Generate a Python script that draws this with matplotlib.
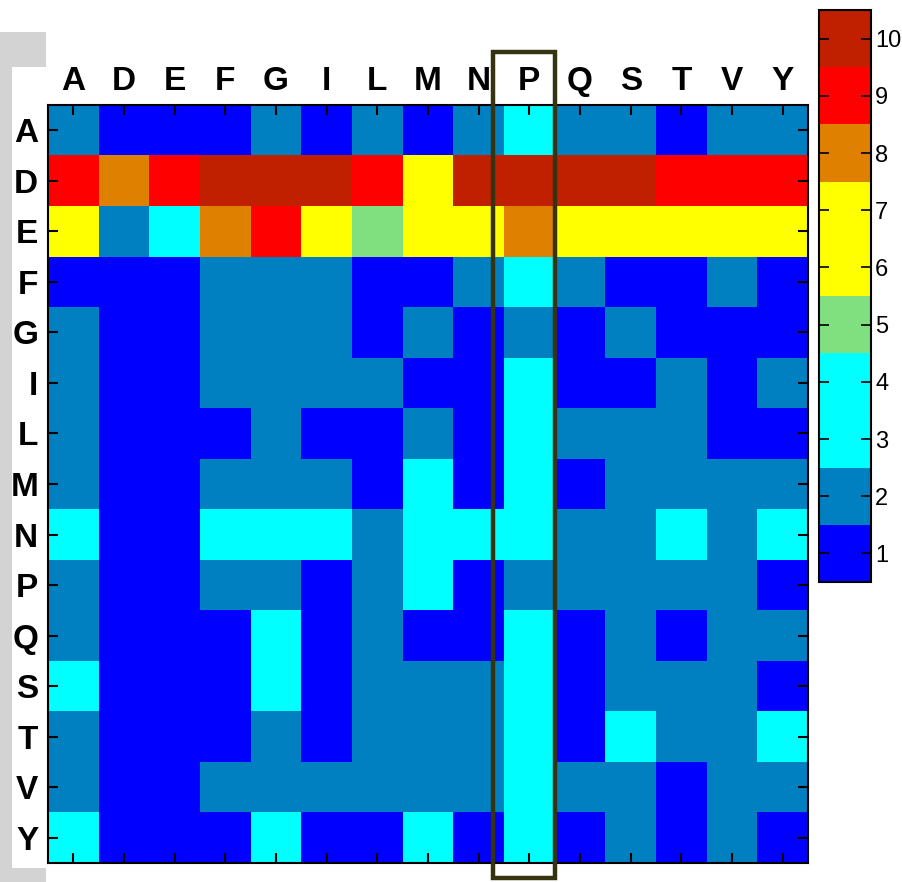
import numpy as np
import matplotlib
matplotlib.use("Agg")
import matplotlib.pyplot as plt
from matplotlib.colors import ListedColormap, BoundaryNorm
from matplotlib.patches import Rectangle

residues = ["A", "D", "E", "F", "G", "I", "L", "M", "N", "P", "Q", "S", "T", "V", "Y"]

row_A = [2, 1, 1, 1, 2, 1, 2, 1, 2, 3, 2, 2, 1, 2, 2]
row_D = [9, 8, 9, 10, 10, 10, 9, 7, 10, 10, 10, 10, 9, 9, 9]
row_E = [7, 2, 3, 8, 9, 7, 5, 7, 7, 8, 7, 7, 7, 7, 7]
row_F = [1, 1, 1, 2, 2, 2, 1, 1, 2, 3, 2, 1, 1, 2, 1]
row_G = [2, 1, 1, 2, 2, 2, 1, 2, 1, 2, 1, 2, 1, 1, 1]
row_I = [2, 1, 1, 2, 2, 2, 2, 1, 1, 3, 1, 1, 2, 1, 2]
row_L = [2, 1, 1, 1, 2, 1, 1, 2, 1, 3, 2, 2, 2, 1, 1]
row_M = [2, 1, 1, 2, 2, 2, 1, 3, 1, 3, 1, 2, 2, 2, 2]
row_N = [3, 1, 1, 3, 3, 3, 2, 3, 3, 3, 2, 2, 3, 2, 3]
row_P = [2, 1, 1, 2, 2, 1, 2, 3, 1, 2, 2, 2, 2, 2, 1]
row_Q = [2, 1, 1, 1, 3, 1, 2, 1, 1, 3, 1, 2, 1, 2, 2]
row_S = [3, 1, 1, 1, 3, 1, 2, 2, 2, 3, 1, 2, 2, 2, 1]
row_T = [2, 1, 1, 1, 2, 1, 2, 2, 2, 3, 1, 3, 2, 2, 3]
row_V = [2, 1, 1, 2, 2, 2, 2, 2, 2, 3, 2, 2, 1, 2, 2]
row_Y = [3, 1, 1, 1, 3, 1, 1, 3, 1, 3, 1, 2, 1, 2, 1]

levels = [1, 2, 3, 4, 5, 6, 7, 8, 9, 10]
level_colors = ["#0000FF", "#0080C0", "#00FFFF", "#00FFFF", "#80E080",
                "#FFFF00", "#FFFF00", "#E08000", "#FF0000", "#C02000"]

highlight = "P"

matrix = np.array([row_A, row_D, row_E, row_F, row_G, row_I, row_L, row_M,
                   row_N, row_P, row_Q, row_S, row_T, row_V, row_Y])

W, H = 903, 882
fig = plt.figure(figsize=(W / 100, H / 100), dpi=100)
fig.patch.set_facecolor("white")

# grey frame strip on the left edge (drawn beneath the axes and their labels)
fig.add_artist(Rectangle((0, 0), 46 / W, (H - 32) / H, transform=fig.transFigure,
                         facecolor="#D3D3D3", edgecolor="none", zorder=-2))
fig.add_artist(Rectangle((12 / W, 14 / H), 40 / W, (868 - 67) / H,
                         transform=fig.transFigure, facecolor="white",
                         edgecolor="none", zorder=-1))

cmap = ListedColormap(level_colors)
bounds = np.arange(levels[0] - 0.5, levels[-1] + 1.0, 1.0)
norm = BoundaryNorm(bounds, cmap.N)

ax = fig.add_axes([48 / W, 19 / H, 760 / W, 758 / H])
ax.patch.set_alpha(0)
im = ax.imshow(matrix, cmap=cmap, norm=norm, aspect="auto", interpolation="nearest")

n = len(residues)
ax.set_xticks(range(n))
ax.set_yticks(range(n))
ax.set_xticklabels(residues)
ax.set_yticklabels(residues)
ax.tick_params(axis="x", top=True, bottom=True, labeltop=True, labelbottom=False,
               direction="in", length=7, width=1.5, pad=6, labelsize=24)
ax.tick_params(axis="y", left=True, right=True, direction="in", length=7,
               width=1.5, pad=7, labelsize=24)
for lab in ax.get_xticklabels() + ax.get_yticklabels():
    lab.set_fontfamily("Liberation Sans")
    lab.set_fontweight("bold")
for sp in ax.spines.values():
    sp.set_linewidth(1.5)
    sp.set_color("black")

# frame around the highlighted column
hi = residues.index(highlight)
x0 = hi - 0.5 - 11 / 50.67
ax.add_patch(Rectangle((x0, -0.5 - 53 / 50.53), (hi + 0.5) - x0, n + 68 / 50.53,
                       fill=False, edgecolor="#363410", linewidth=3.2,
                       clip_on=False, zorder=5))

cax = fig.add_axes([819 / W, 300 / H, 52 / W, 572 / H])
cb = fig.colorbar(im, cax=cax, ticks=levels)
cb.outline.set_linewidth(1.5)
cax.minorticks_off()
cax.tick_params(axis="y", which="major", left=True, right=True, direction="in",
                length=7, width=1.2, pad=3, labelsize=17)
for lab in cax.get_yticklabels():
    lab.set_fontfamily("Liberation Sans")
cax.set_ylim(bounds[0], bounds[-1])

fig.savefig("out.png", dpi=100)
